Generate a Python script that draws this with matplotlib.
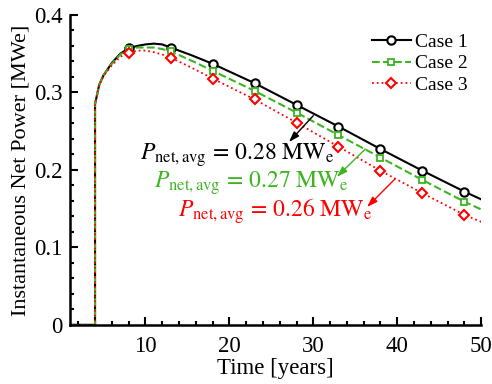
import numpy as np
import matplotlib
matplotlib.use("Agg")
import matplotlib.pyplot as plt
from matplotlib.ticker import MultipleLocator

plt.rcParams['font.family'] = ['Liberation Serif', 'DejaVu Serif']
plt.rcParams['mathtext.fontset'] = 'stix'
plt.rcParams['font.size'] = 14

# power curves (years, MWe)
time_1 = [1, 3.999, 4, 4.5, 5, 6, 7, 8, 9, 10, 11, 12, 13, 15.5, 18, 23, 28, 33, 38, 43, 48, 50]
power_1 = [0, 0, 0.285, 0.310, 0.322, 0.338, 0.350, 0.357, 0.360, 0.362, 0.363, 0.362, 0.358,
           0.348, 0.337, 0.312, 0.284, 0.256, 0.227, 0.199, 0.172, 0.162]
time_2 = [1, 3.999, 4, 4.5, 5, 6, 7, 8, 9, 10, 11, 12, 13, 15.5, 18, 23, 28, 33, 38, 43, 48, 50]
power_2 = [0, 0, 0.285, 0.310, 0.322, 0.337, 0.349, 0.356, 0.358, 0.358, 0.358, 0.356, 0.353,
           0.341, 0.328, 0.302, 0.274, 0.245, 0.216, 0.187, 0.159, 0.149]
time_3 = [1, 3.999, 4, 4.5, 5, 6, 7, 8, 9, 10, 11, 12, 13, 15.5, 18, 23, 28, 33, 38, 43, 48, 50]
power_3 = [0, 0, 0.285, 0.310, 0.321, 0.335, 0.346, 0.351, 0.354, 0.354, 0.352, 0.349, 0.345,
           0.332, 0.318, 0.291, 0.261, 0.230, 0.199, 0.170, 0.142, 0.133]
marker_years = [8, 13, 18, 23, 28, 33, 38, 43, 48]

labels = ['Case 1', 'Case 2', 'Case 3']
avg_power = [0.28, 0.27, 0.26]
green = '#3cb521'

fig = plt.figure(figsize=(4.92, 3.84), dpi=100)
ax = fig.add_axes([0.142, 0.154, 0.836, 0.807])


def marks(t):
    return [t.index(m) for m in marker_years]


ax.plot(time_1, power_1, '-', color='black', lw=1.5, marker='o', ms=6, mfc='white',
        mew=1.5, markevery=marks(time_1), label=labels[0])
ax.plot(time_2, power_2, '--', color=green, lw=1.5, marker='s', ms=4.5, mfc='white',
        mew=1.3, markevery=marks(time_2), label=labels[1])
ax.plot(time_3, power_3, ':', color='red', lw=1.3, marker='D', ms=5.5, mfc='white',
        mew=1.5, markevery=marks(time_3), label=labels[2])

# average power callouts
arrow_tail = [(30.0, 0.270), (36.2, 0.227), (39.7, 0.188)]
arrow_head = [(27.1, 0.236), (32.8, 0.191), (36.4, 0.152)]
text_xy = [(20.9, 0.219), (22.6, 0.183), (25.5, 0.147)]
for val, c, txy, tail, head in zip(avg_power, ['black', green, 'red'], text_xy, arrow_tail, arrow_head):
    ax.text(txy[0], txy[1], r'$P_{\mathrm{net,avg}}\,=\,%.2f\ \mathrm{MW_e}$' % val,
            color=c, fontsize=17, ha='center', va='center')
    ax.annotate('', xy=head, xytext=tail,
                arrowprops=dict(arrowstyle='-|>,head_length=0.45,head_width=0.15',
                                color=c, lw=1, shrinkA=0, shrinkB=0))

ax.set_xlim(1, 50)
ax.set_ylim(0, 0.4)
ax.xaxis.set_major_locator(MultipleLocator(10))
ax.xaxis.set_minor_locator(MultipleLocator(2))
ax.yaxis.set_minor_locator(MultipleLocator(0.02))
ax.set_yticks([0, 0.1, 0.2, 0.3, 0.4])
ax.set_yticklabels(['0', '0.1', '0.2', '0.3', '0.4'])
ax.tick_params(which='both', direction='in', width=1.5)
ax.tick_params(which='major', length=6, labelsize=16.5, pad=5)
ax.tick_params(axis='x', which='major', pad=8)
ax.tick_params(which='minor', length=3)
for side in ['top', 'right']:
    ax.spines[side].set_visible(False)
for side in ['left', 'bottom']:
    ax.spines[side].set_linewidth(1.8)

ax.set_xlabel('Time [years]', fontsize=16.5, labelpad=1)
ax.set_ylabel('Instantaneous Net Power [MWe]', fontsize=16, labelpad=3)

ax.legend(loc='upper right', frameon=False, fontsize=14, handlelength=2.0,
          handletextpad=0.2, labelspacing=0.2, borderaxespad=0.3,
          bbox_to_anchor=(1.0, 0.985))

fig.savefig('out.png', dpi=100)
